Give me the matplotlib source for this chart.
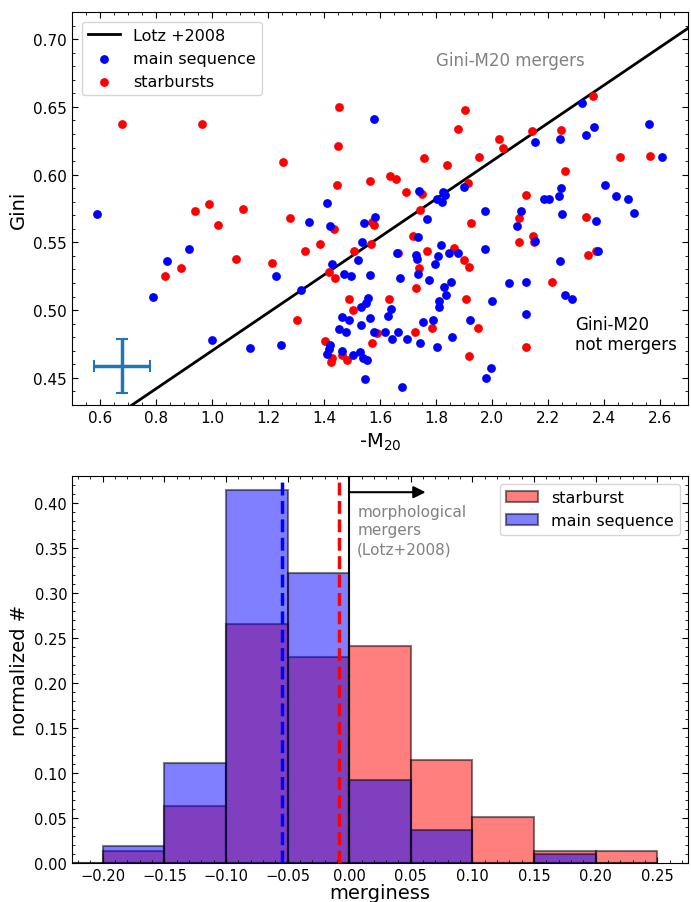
import numpy as np
import matplotlib
matplotlib.use("Agg")
import matplotlib.pyplot as plt

# ---------------- data ----------------
ms_m20 = [0.590, 0.918, 0.841, 1.230, 0.790, 1.000, 1.137, 1.245, 1.578, 1.741,
          1.899, 1.826, 1.831, 1.804, 1.820, 1.411, 1.348, 1.421, 1.581, 1.544,
          1.768, 1.734, 1.536, 1.818, 1.428, 1.523, 1.473, 1.496, 1.565, 1.319,
          1.659, 1.728, 1.733, 1.807, 1.847, 1.879, 1.798, 1.737, 1.671, 1.776,
          1.853, 1.828, 1.837, 1.811, 1.812, 1.921, 1.532, 1.551, 1.558, 1.464,
          1.491, 1.532, 1.564, 1.641, 1.630, 1.454, 1.477, 1.577, 1.617, 1.665,
          1.755, 1.791, 1.856, 1.422, 1.418, 1.409, 1.464, 1.503, 1.530, 1.539,
          1.555, 1.642, 1.697, 1.742, 1.802, 1.548, 1.680, 1.977, 1.996, 2.322,
          2.562, 2.366, 2.335, 2.242, 2.154, 2.607, 2.404, 2.442, 2.485, 2.506,
          2.246, 2.239, 2.185, 2.205, 1.976, 2.104, 2.088, 2.251, 2.372, 2.155,
          1.975, 2.378, 2.244, 2.059, 2.120, 2.262, 2.285, 1.999, 2.122]
ms_gini = [0.571, 0.545, 0.536, 0.525, 0.510, 0.478, 0.472, 0.474, 0.641, 0.588,
           0.591, 0.587, 0.585, 0.582, 0.580, 0.579, 0.565, 0.562, 0.569, 0.564,
           0.567, 0.554, 0.550, 0.548, 0.534, 0.537, 0.527, 0.525, 0.526, 0.515,
           0.542, 0.541, 0.538, 0.540, 0.542, 0.542, 0.534, 0.527, 0.524, 0.522,
           0.521, 0.517, 0.511, 0.507, 0.502, 0.493, 0.502, 0.505, 0.509, 0.495,
           0.493, 0.489, 0.494, 0.501, 0.496, 0.486, 0.484, 0.484, 0.484, 0.484,
           0.491, 0.493, 0.480, 0.474, 0.471, 0.468, 0.470, 0.467, 0.469, 0.465,
           0.463, 0.479, 0.479, 0.476, 0.473, 0.449, 0.443, 0.450, 0.457, 0.653,
           0.637, 0.635, 0.629, 0.626, 0.624, 0.613, 0.592, 0.584, 0.582, 0.572,
           0.590, 0.584, 0.582, 0.582, 0.573, 0.573, 0.562, 0.571, 0.566, 0.551,
           0.545, 0.544, 0.536, 0.520, 0.521, 0.511, 0.508, 0.507, 0.497]

sb_m20 = [0.677, 0.965, 1.255, 0.938, 0.990, 1.110, 1.022, 0.831, 0.890, 1.087,
          1.213, 1.454, 1.902, 1.880, 1.451, 1.756, 1.840, 1.955, 1.636, 1.657,
          1.446, 1.563, 1.692, 1.749, 1.916, 1.278, 1.437, 1.573, 1.579, 1.743,
          1.924, 1.719, 1.387, 1.568, 1.863, 1.333, 1.506, 1.418, 1.441, 1.303,
          1.665, 1.768, 1.900, 1.917, 1.738, 1.728, 1.907, 1.950, 1.489, 1.503,
          1.631, 1.589, 1.724, 1.785, 1.403, 1.427, 1.424, 1.466, 1.483, 1.571,
          1.919, 2.362, 2.245, 2.143, 2.024, 2.039, 2.458, 2.563, 2.261, 2.122,
          2.095, 2.335, 2.148, 2.151, 2.098, 2.370, 2.344, 2.214, 2.121]
sb_gini = [0.637, 0.637, 0.609, 0.573, 0.578, 0.575, 0.563, 0.525, 0.531, 0.538,
           0.535, 0.650, 0.648, 0.634, 0.621, 0.612, 0.607, 0.613, 0.599, 0.597,
           0.592, 0.595, 0.587, 0.586, 0.594, 0.568, 0.560, 0.565, 0.563, 0.574,
           0.564, 0.555, 0.549, 0.549, 0.546, 0.544, 0.544, 0.528, 0.524, 0.493,
           0.542, 0.544, 0.537, 0.532, 0.531, 0.516, 0.508, 0.487, 0.508, 0.500,
           0.508, 0.483, 0.484, 0.487, 0.477, 0.465, 0.462, 0.467, 0.463, 0.476,
           0.466, 0.658, 0.633, 0.632, 0.626, 0.620, 0.613, 0.614, 0.603, 0.585,
           0.568, 0.569, 0.555, 0.550, 0.550, 0.544, 0.541, 0.521, 0.473]

# typical error bar
err_x, err_y = 0.68, 0.459
err_dx, err_dy = 0.10, 0.02

# Lotz et al. 2008 line: G = -0.14 M20 + 0.33  (x = -M20)
lotz_slope, lotz_icpt = 0.14, 0.33

# histogram of merginess
bin_edges = [-0.25, -0.20, -0.15, -0.10, -0.05, 0.00, 0.05, 0.10, 0.15, 0.20, 0.25]
sb_hist = [0.0, 0.013, 0.063, 0.266, 0.229, 0.241, 0.114, 0.051, 0.013, 0.013]
ms_hist = [0.0, 0.019, 0.111, 0.414, 0.322, 0.092, 0.037, 0.0, 0.010, 0.0]
ms_median = -0.0545
sb_median = -0.008

# ---------------- figure ----------------
fig = plt.figure(figsize=(6.91, 9.03), dpi=100)
ax1 = fig.add_axes([72/691, 1-406/903, 616/691, 393/903])
ax2 = fig.add_axes([72/691, 1-864/903, 616/691, 387/903])

# top panel
xl = np.array([0.5, 2.7])
ax1.plot(xl, lotz_slope*xl + lotz_icpt, color='k', lw=2, label='Lotz +2008', zorder=1)
ax1.scatter(ms_m20, ms_gini, s=40, color='blue', linewidths=0, label='main sequence', zorder=3)
ax1.scatter(sb_m20, sb_gini, s=40, color='red', linewidths=0, label='starbursts', zorder=2)
ax1.errorbar([err_x], [err_y], xerr=[err_dx], yerr=[err_dy], color='#1f77b4',
             lw=2.5, capsize=4, capthick=1.5, zorder=4)
ax1.set_xlim(0.5, 2.7)
ax1.set_ylim(0.43, 0.72)
ax1.set_xticks(np.arange(0.6, 2.61, 0.2))
ax1.set_yticks(np.arange(0.45, 0.701, 0.05))
ax1.minorticks_on()
ax1.tick_params(which='both', direction='in', top=True, right=True, labelsize=11)
ax1.tick_params(which='major', length=4)
ax1.tick_params(which='minor', length=2)
ax1.set_xlabel('-M$_{20}$', fontsize=14)
ax1.set_ylabel('Gini', fontsize=14)
ax1.text(1.8, 0.6845, 'Gini-M20 mergers', color='gray', fontsize=12, va='center', ha='left')
ax1.text(2.297, 0.4825, 'Gini-M20\nnot mergers', color='k', fontsize=12, va='center', ha='left',
         linespacing=1.1)
ax1.legend(loc='upper left', fontsize=11.5, borderaxespad=0.6)

# bottom panel
edges = np.array(bin_edges)
ax2.bar(edges[:-1], sb_hist, width=0.05, align='edge', color='red', alpha=0.5,
        edgecolor='k', linewidth=1.5, label='starburst')
ax2.bar(edges[:-1], ms_hist, width=0.05, align='edge', color='blue', alpha=0.5,
        edgecolor='k', linewidth=1.5, label='main sequence')
ax2.axvline(ms_median, color='blue', ls='--', lw=2.5)
ax2.axvline(sb_median, color='red', ls='--', lw=2.5)
ax2.axvline(0.0, color='k', lw=1.5)
ax2.annotate('', xy=(0.062, 0.412), xytext=(0.0, 0.412),
             arrowprops=dict(arrowstyle='-|>', color='k', lw=1.5, mutation_scale=18,
                             shrinkA=0, shrinkB=0))
ax2.text(0.0065, 0.399, 'morphological\nmergers\n(Lotz+2008)', color='gray', fontsize=11,
         va='top', ha='left', linespacing=1.3)
ax2.set_xlim(-0.225, 0.275)
ax2.set_ylim(0, 0.43)
ax2.set_xticks(np.arange(-0.20, 0.251, 0.05))
ax2.set_yticks(np.arange(0, 0.401, 0.05))
ax2.minorticks_on()
ax2.tick_params(which='both', direction='in', top=True, right=True, labelsize=10.5)
ax2.tick_params(which='major', length=4)
ax2.tick_params(which='minor', length=2)
ax2.set_xlabel('merginess', fontsize=14, labelpad=0)
ax2.set_ylabel('normalized #', fontsize=14)
ax2.legend(loc='upper right', fontsize=11.5)

fig.savefig('out.png', dpi=100)
